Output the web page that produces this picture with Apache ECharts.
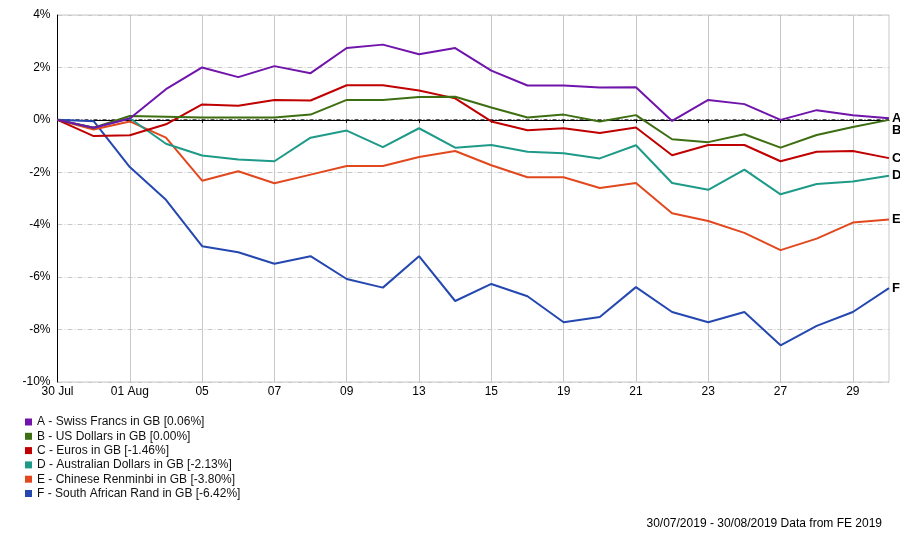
<!DOCTYPE html>
<html>
<head>
<meta charset="utf-8">
<script src="https://cdn.jsdelivr.net/npm/echarts@6/dist/echarts.min.js"></script>
<style>
html,body{margin:0;padding:0;background:#fff;}
#chart{width:900px;height:535px;}
</style>
</head>
<body>
<div id="chart"></div>
<script>
const categories = ["30 Jul","31 Jul","01 Aug","02 Aug","05","06","07","08","09","12","13","14","15","16","19","20","21","22","23","26","27","28","29","30"];
const seriesNames = [
  "A - Swiss Francs in GB [0.06%]",
  "B - US Dollars in GB [0.00%]",
  "C - Euros in GB [-1.46%]",
  "D - Australian Dollars in GB [-2.13%]",
  "E - Chinese Renminbi in GB [-3.80%]",
  "F - South African Rand in GB [-6.42%]"
];
const endLetters = ["A","B","C","D","E","F"];
const swissFrancs = [0, -0.3, 0.05, 1.17, 2.0, 1.63, 2.05, 1.78, 2.74, 2.87, 2.5, 2.74, 1.88, 1.31, 1.31, 1.23, 1.24, -0.04, 0.76, 0.6, 0.0, 0.37, 0.18, 0.06];
const usDollars = [0, -0.3, 0.15, 0.12, 0.09, 0.09, 0.09, 0.2, 0.76, 0.76, 0.87, 0.88, 0.47, 0.09, 0.2, -0.06, 0.18, -0.74, -0.85, -0.55, -1.06, -0.58, -0.27, 0.0];
const euros = [0, -0.62, -0.59, -0.17, 0.59, 0.54, 0.76, 0.74, 1.32, 1.32, 1.12, 0.82, -0.06, -0.4, -0.32, -0.5, -0.29, -1.35, -0.96, -0.96, -1.58, -1.22, -1.19, -1.46];
const ausDollars = [0, -0.3, 0.06, -0.91, -1.36, -1.51, -1.58, -0.68, -0.41, -1.04, -0.32, -1.06, -0.96, -1.22, -1.27, -1.47, -0.97, -2.41, -2.67, -1.9, -2.84, -2.45, -2.35, -2.13];
const renminbi = [0, -0.37, -0.06, -0.68, -2.32, -1.96, -2.42, -2.09, -1.76, -1.76, -1.42, -1.19, -1.73, -2.19, -2.19, -2.6, -2.41, -3.56, -3.86, -4.31, -4.97, -4.53, -3.92, -3.80];
const rand = [0, -0.05, -1.8, -3.05, -4.82, -5.05, -5.49, -5.2, -6.07, -6.4, -5.2, -6.91, -6.26, -6.73, -7.72, -7.52, -6.38, -7.33, -7.72, -7.33, -8.6, -7.86, -7.33, -6.42];
const zeroLine = categories.map(() => 0);
const yTicks = [-10, -8, -6, -4, -2, 0, 2, 4];
const footerText = "30/07/2019 - 30/08/2019 Data from FE 2019";

const allData = [swissFrancs, usDollars, euros, ausDollars, renminbi, rand];
const colors = ["#7014AC", "#3D6E12", "#C00000", "#1E9A88", "#E2481E", "#2448B0"];
const labelOffsets = [[0,0],[0,11],[0,0],[0,0],[0,0],[0,0]];
const FONT = "'Liberation Sans', Arial, sans-serif";

const series = [{
  name: 'zero',
  type: 'line',
  data: zeroLine,
  symbol: 'none',
  silent: true,
  z: 1,
  lineStyle: { width: 1, color: '#000', type: [4, 2, 1, 2] }
}].concat(allData.map((d, i) => ({
  name: seriesNames[i],
  type: 'line',
  data: d,
  symbol: 'none',
  lineStyle: { width: 2, color: colors[i] },
  itemStyle: { color: colors[i] },
  z: 10 - i,
  endLabel: {
    show: true,
    formatter: endLetters[i],
    color: '#000',
    fontSize: 13,
    fontWeight: 'bold',
    fontFamily: FONT,
    distance: 3,
    offset: labelOffsets[i]
  }
})));

const chart = echarts.init(document.getElementById('chart'));
chart.setOption({
  animation: false,
  backgroundColor: '#fff',
  textStyle: { fontFamily: FONT },
  grid: {
    left: 57.5, top: 15, right: 11, bottom: 153,
    show: true, borderColor: '#c8c8c8', borderWidth: 1, backgroundColor: 'transparent'
  },
  legend: {
    orient: 'vertical',
    left: 20, top: 411,
    icon: 'rect',
    itemWidth: 7, itemHeight: 7,
    itemGap: 2.3,
    textStyle: { fontSize: 12, color: '#111', fontFamily: FONT, lineHeight: 12 },
    data: seriesNames
  },
  xAxis: {
    type: 'category',
    data: categories,
    boundaryGap: false,
    axisLine: { lineStyle: { color: '#000', width: 1 } },
    axisTick: { show: true, interval: 1, length: 3, lineStyle: { color: '#000' } },
    axisLabel: { interval: 1, color: '#000', fontSize: 12, fontFamily: FONT, margin: 4 },
    splitLine: { show: true, interval: 1, lineStyle: { color: '#c8c8c8', width: 1 } }
  },
  yAxis: {
    type: 'value',
    min: yTicks[0], max: yTicks[yTicks.length - 1], interval: 2,
    axisLine: { show: true, lineStyle: { color: '#000', width: 1 } },
    axisTick: { show: false },
    axisLabel: { color: '#000', fontSize: 12, fontFamily: FONT, margin: 7, formatter: v => v + '%' },
    splitLine: { show: true, lineStyle: { color: '#c8c8c8', width: 1, type: [5, 2, 1, 2] } }
  },
  graphic: [{
    type: 'text',
    right: 18, top: 518,
    style: { text: footerText, fill: '#000', font: "12px 'Liberation Sans', Arial, sans-serif" }
  }],
  series: series
});
</script>
</body>
</html>
